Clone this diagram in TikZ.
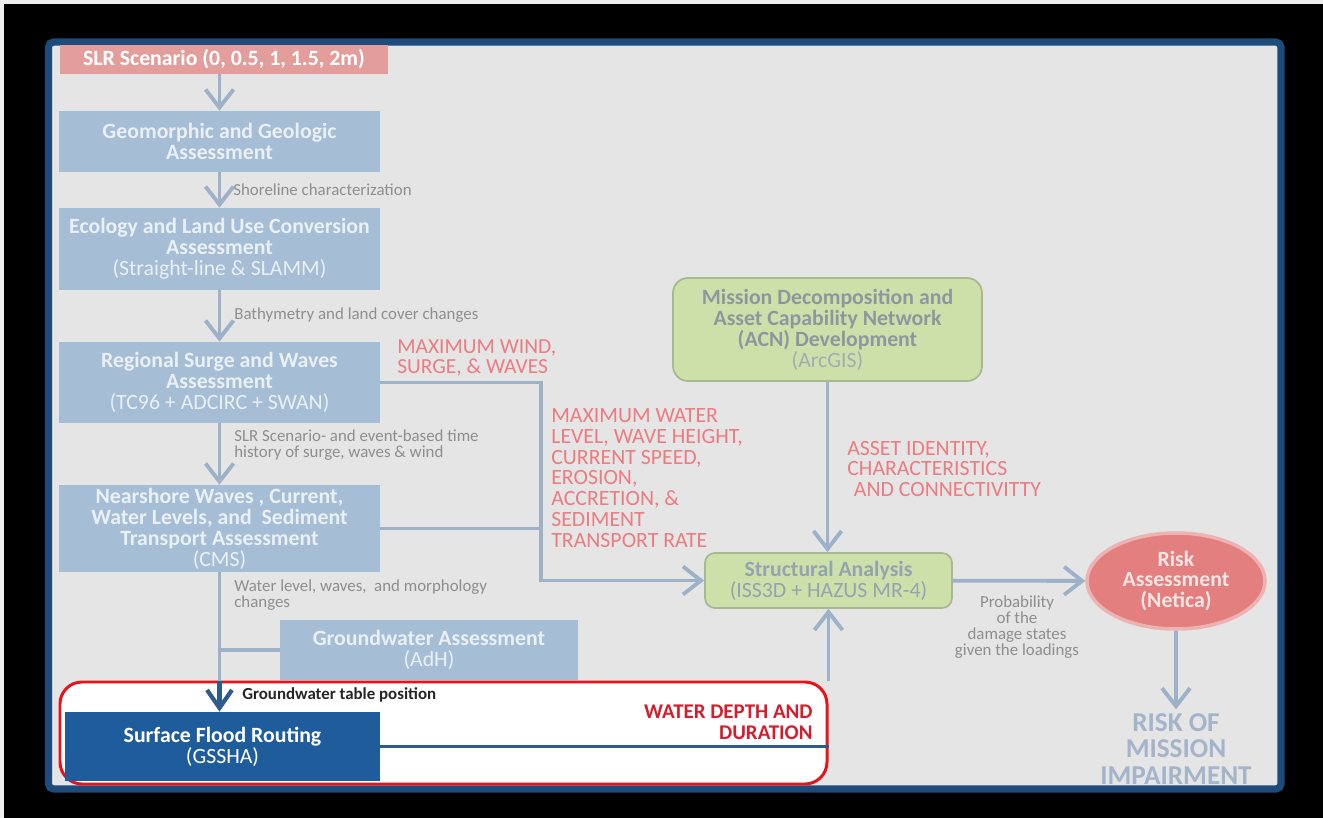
\documentclass[tikz,border=0pt]{standalone}
\usepackage{fontspec}
\setmainfont{Carlito}
\usetikzlibrary{arrows.meta, positioning, shapes.geometric}

\definecolor{panelgray}{HTML}{E5E5E5}
\definecolor{frameblue}{HTML}{1F4A7C}
\definecolor{boxblue}{HTML}{A5BDD5}
\definecolor{boxtext}{HTML}{EAF0F6}
\definecolor{slrpink}{HTML}{E39E9C}
\definecolor{flowgray}{HTML}{9DB1C8}
\definecolor{notegray}{HTML}{8E8E8E}
\definecolor{warnpink}{HTML}{EC7C82}
\definecolor{acngreen}{HTML}{CEE0A9}
\definecolor{acnedge}{HTML}{A8B992}
\definecolor{acntext}{HTML}{8E979F}
\definecolor{satext}{HTML}{93A3B2}
\definecolor{riskred}{HTML}{E3807F}
\definecolor{riskhalo}{HTML}{EDB2B2}
\definecolor{risktext}{HTML}{F7E5E5}
\definecolor{outcomeblue}{HTML}{A4B4CA}
\definecolor{focusred}{HTML}{E8121A}
\definecolor{floodblue}{HTML}{1E5C9B}
\definecolor{darkflow}{HTML}{2F5B8C}
\definecolor{depthred}{HTML}{D41E2E}

\newcommand{\boxsize}{\fontsize{12.4}{11.9}\selectfont}
\newcommand{\labelsize}{\fontsize{9.6}{9.2}\selectfont}

\tikzset{
  box/.style={rectangle, fill=boxblue, text=boxtext, font=\bfseries\boxsize, align=center, inner sep=0pt},
  acn/.style={rectangle, rounded corners=3mm, fill=acngreen, draw=acnedge, line width=1pt, text=acntext, font=\bfseries\boxsize, align=center, inner sep=0pt},
  flow/.style={draw=flowgray, line width=2.2pt, -{Straight Barb[length=3.6mm, width=5.6mm]}},
  link/.style={draw=flowgray, line width=2.2pt},
  note/.style={text=notegray, font=\labelsize, align=left, inner sep=0pt},
  warn/.style={text=warnpink, font=\boxsize, align=left, inner sep=0pt},
}

\begin{document}
\begin{tikzpicture}[x=0.2mm, y=-0.2mm]
  \fill[black] (0,0) rectangle (1323,818);
  \fill[panelgray!60!white] (0,0) rectangle (1323,4);
  \fill[panelgray!60!white] (0,0) rectangle (4,818);
  \draw[frameblue, line width=4pt, fill=panelgray, rounded corners=1mm] (48.5,42) rectangle (1281,789);

  % left column
  \node[box, fill=slrpink, text=white, minimum width=65.6mm, minimum height=5.8mm] (slr) at (224,59.5) {SLR Scenario (0, 0.5, 1, 1.5, 2m)};
  \node[box, minimum width=64.2mm, minimum height=12.2mm] (geo) at (219.5,141.5) {Geomorphic and Geologic\\Assessment};
  \node[box, minimum width=64.2mm, minimum height=16.4mm] (eco) at (219.5,249) {Ecology and Land Use Conversion\\Assessment\\{\mdseries(Straight-line \& SLAMM)}};
  \node[box, minimum width=64.2mm, minimum height=16.2mm] (reg) at (219.5,382.5) {Regional Surge and Waves\\Assessment\\{\mdseries(TC96 + ADCIRC + SWAN)}};
  \node[box, minimum width=64.2mm, minimum height=17.4mm] (near) at (219.5,528.5) {Nearshore Waves , Current,\\Water Levels, and~ Sediment\\Transport Assessment\\{\mdseries(CMS)}};
  \node[box, minimum width=59.6mm, minimum height=12mm] (gw) at (429,650) {Groundwater Assessment\\{\mdseries(AdH)}};

  \node[draw=focusred, line width=1.7pt, fill=white, rounded corners=4.4mm, minimum width=153.4mm, minimum height=20.4mm] (focus) at (443.5,733) {};
  \node[box, fill=floodblue, text=white, minimum width=63mm, minimum height=13.8mm] (surf) at (222.5,746.5) {Surface Flood Routing\\{\mdseries(GSSHA)}};

  % right part
  \node[acn, minimum width=61.8mm, minimum height=20.6mm] (acn) at (827.5,329.5) {Mission Decomposition and\\Asset Capability Network\\(ACN) Development\\{\mdseries\color{acntext!80!white}(ArcGIS)}};
  \node[acn, rounded corners=2mm, text=satext, minimum width=49.4mm, minimum height=11mm] (sa) at (828.5,580.5) {Structural Analysis\\{\mdseries(ISS3D + HAZUS MR-4)}};
  \node[ellipse, fill=riskred, draw=riskhalo, line width=2pt, text=risktext, font=\bfseries\boxsize, align=center, minimum width=35.6mm, minimum height=19.2mm, inner sep=0pt] (risk) at (1176,581) {Risk\\Assessment\\(Netica)};
  \node[text=outcomeblue, font=\bfseries\fontsize{15.5}{15.3}\selectfont, align=center, inner sep=2pt] (impair) at (1176,749) {RISK OF\\MISSION\\IMPAIRMENT};

  % connectors
  \draw[flow] (geo.north |- slr.south) -- (geo.north);
  \draw[flow] (geo) -- (eco);
  \draw[flow] (eco) -- (reg);
  \draw[flow] (reg) -- (near);
  \coordinate (bend) at (541,382.5);
  \draw[flow] (reg.east) -- (bend) |- (sa.west);
  \draw[link] (near.east) -- (near.east -| bend);
  \draw[flow] (acn.south) -- (acn.south |- sa.north);
  \draw[flow] (sa) -- (risk);
  \draw[flow] (risk.south) -- (impair.north);
  \coordinate (gwtop) at (near.south |- focus.north);
  \draw[link] (gw.west) -- (gw.west -| near.south);
  \draw[link] (near.south) -- (gwtop);
  \draw[darkflow, line width=2.4pt, -{Straight Barb[length=3.6mm, width=5mm]}] (gwtop) -- (gwtop |- surf.north);
  \draw[darkflow, line width=1.8pt] (surf.east) -- (surf.east -| focus.east);
  \draw[flow] (sa.south |- focus.north) -- (sa.south);

  % labels
  \node[note, anchor=west] (shore) at (233,190) {Shoreline characterization};
  \node[note, anchor=west] (bathy) at (234,315) {Bathymetry and land cover changes};
  \node[note, anchor=west] (hist) at (234,445) {SLR Scenario- and event-based time\\history of surge, waves \& wind};
  \node[note, anchor=west] (morph) at (234,595) {Water level, waves,~ and morphology\\changes};
  \node[note, anchor=west, text=black!85, font=\bfseries\labelsize] (table) at (242,695) {Groundwater table position};
  \node[note, align=center] (prob) at (1017,627) {Probability\\of the\\damage states\\given the loadings};
  \node[warn, anchor=west, font=\fontsize{12.2}{11.4}\selectfont] (wind) at (397,358) {MAXIMUM WIND,\\SURGE, \& WAVES};
  \node[warn, anchor=west] (level) at (551,478) {MAXIMUM WATER\\LEVEL, WAVE HEIGHT,\\CURRENT SPEED,\\EROSION,\\ACCRETION, \&\\SEDIMENT\\TRANSPORT RATE};
  \node[warn, anchor=west] (asset) at (847,469) {ASSET IDENTITY,\\CHARACTERISTICS\\\hspace{0.3em}AND CONNECTIVITTY};
  \node[warn, anchor=east, align=right, text=depthred, font=\bfseries\fontsize{11.9}{11.9}\selectfont] (depth) at (813,722.5) {WATER DEPTH AND\\DURATION};
\end{tikzpicture}
\end{document}
